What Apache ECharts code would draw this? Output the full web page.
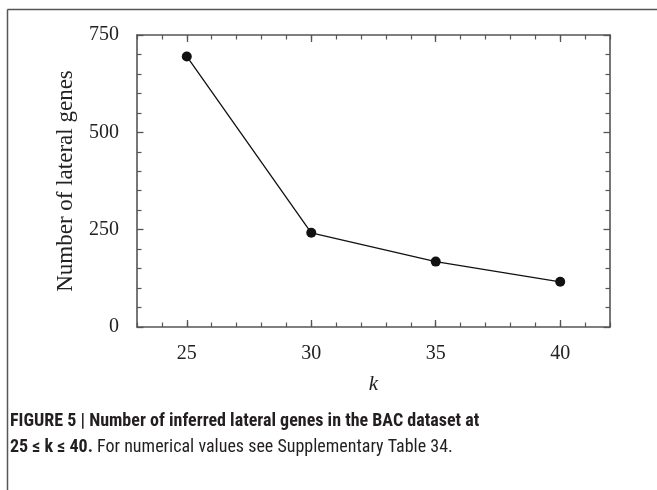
<!DOCTYPE html>
<html>
<head>
<meta charset="utf-8">
<script src="https://cdn.jsdelivr.net/npm/echarts@6/dist/echarts.min.js"></script>
<style>
html,body{margin:0;padding:0;background:#fff;}
#c{width:657px;height:490px;}
</style>
</head>
<body>
<div id="c"></div>
<script>
var kValues = [25, 30, 35, 40];
var lateralGenes = [695, 242, 168, 116];
var xTickLabels = [25, 30, 35, 40];
var yTickLabels = [0, 250, 500, 750];

var serif = '"Liberation Serif", "DejaVu Serif", serif';
var sans = '"Liberation Sans Narrow", "Roboto Condensed", Roboto, "Liberation Sans", sans-serif';
var axisCol = '#555';

var chart = echarts.init(document.getElementById('c'), null, {renderer: 'canvas'});

function xMajor(pos, showLabel) {
  return {
    type: 'value', position: pos, gridIndex: 0, min: 23, max: 42,
    axisLine: {show: true, onZero: false, lineStyle: {color: axisCol, width: 1.6}},
    axisTick: {show: true, inside: true, length: 7, customValues: xTickLabels, lineStyle: {color: axisCol, width: 1.3}},
    axisLabel: {show: showLabel, customValues: xTickLabels, margin: 17, fontFamily: serif, fontSize: 20, color: '#222'},
    splitLine: {show: false},
    name: showLabel ? 'k' : '', nameLocation: 'middle', nameGap: 47,
    nameTextStyle: {fontFamily: serif, fontStyle: 'italic', fontSize: 21, color: '#222'}
  };
}
function xMinor(pos) {
  return {
    type: 'value', position: pos, gridIndex: 0, min: 23, max: 42, interval: 1,
    axisLine: {show: false, onZero: false},
    axisTick: {show: true, inside: true, length: 4.5, lineStyle: {color: axisCol, width: 1.2}},
    axisLabel: {show: false}, splitLine: {show: false}
  };
}
function yAxisDef(pos, showLabel) {
  return {
    type: 'value', position: pos, min: 0, max: 750, interval: 250,
    axisLine: {show: true, onZero: false, lineStyle: {color: axisCol, width: 1.6}},
    axisTick: {show: true, inside: true, length: 6.5, lineStyle: {color: axisCol, width: 1.3}},
    minorTick: {show: true, splitNumber: 5, length: 4.5, lineStyle: {color: axisCol, width: 1.2}},
    axisLabel: {show: showLabel, margin: 18, fontFamily: serif, fontSize: 20, color: '#222'},
    splitLine: {show: false},
    name: showLabel ? 'Number of lateral genes' : '', nameLocation: 'middle', nameGap: 60, nameRotate: 90,
    nameTextStyle: {fontFamily: serif, fontSize: 23, color: '#222'}
  };
}

var option = {
  animation: false,
  backgroundColor: '#fff',
  grid: {left: 137, right: 47, top: 35, bottom: 163},
  xAxis: [xMajor('bottom', true), xMinor('bottom'), xMajor('top', false), xMinor('top')],
  yAxis: [yAxisDef('left', true), yAxisDef('right', false)],
  series: [{
    type: 'line',
    xAxisIndex: 0, yAxisIndex: 0,
    data: kValues.map(function (k, i) { return [k, lateralGenes[i]]; }),
    symbol: 'circle', symbolSize: 10,
    itemStyle: {color: '#111'},
    lineStyle: {color: '#111', width: 1.3}
  }],
  graphic: [
    {type: 'line', shape: {x1: 7.5, y1: 9.5, x2: 657, y2: 9.5}, style: {stroke: '#555', lineWidth: 1.5}},
    {type: 'line', shape: {x1: 7.5, y1: 9.5, x2: 7.5, y2: 490}, style: {stroke: '#555', lineWidth: 1.5}},
    {type: 'text', left: 10, top: 412,
      style: {text: 'FIGURE 5 | Number of inferred lateral genes in the BAC dataset at',
        font: 'bold 18px ' + sans, fill: '#231f20'}},
    {type: 'text', left: 10, top: 438,
      style: {text: '{b|25 ≤ k ≤ 40.}{n| For numerical values see Supplementary Table 34.}',
        rich: {
          b: {font: 'bold 18px ' + sans, fill: '#231f20', color: '#231f20'},
          n: {font: '18px ' + sans, fill: '#231f20', color: '#231f20'}
        }}}
  ]
};
chart.setOption(option);
</script>
</body>
</html>
